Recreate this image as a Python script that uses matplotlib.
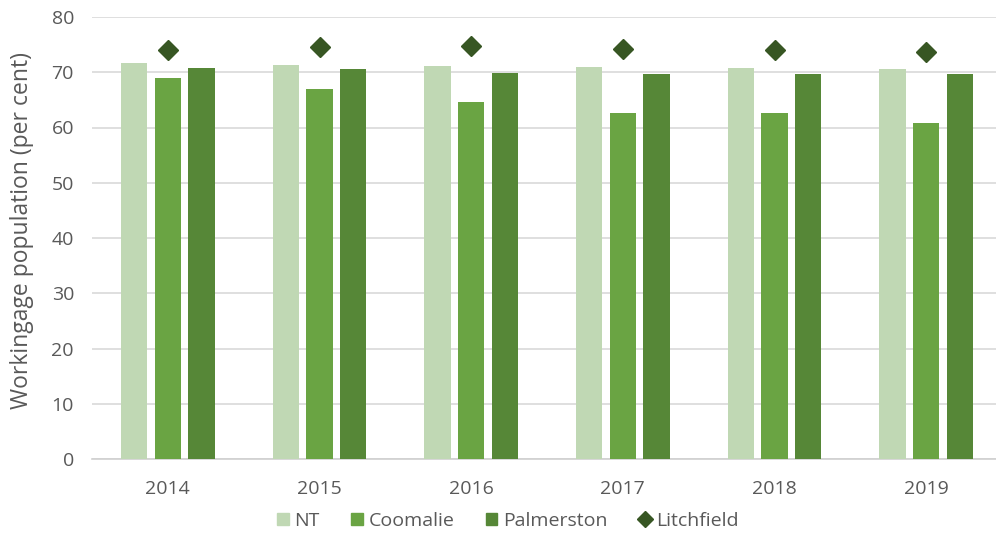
import matplotlib.pyplot as plt
import numpy as np
from matplotlib.patches import Patch
from matplotlib.lines import Line2D

plt.rcParams['font.family'] = ['Open Sans', 'DejaVu Sans']

# data to plot
years = ['2014', '2015', '2016', '2017', '2018', '2019']
nt = [71.7, 71.4, 71.2, 71.0, 70.7, 70.5]
coomalie = [68.9, 67.0, 64.6, 62.7, 62.7, 60.9]
palmerston = [70.7, 70.5, 69.8, 69.6, 69.6, 69.6]
litchfield = [74.0, 74.5, 74.7, 74.2, 74.0, 73.7]

c_nt = '#C0D8B4'
c_coom = '#6AA443'
c_palm = '#568737'
c_litch = '#375623'
txt = '#595959'

fig = plt.figure(figsize=(9.96, 5.36), dpi=100)
ax = fig.add_axes([92 / 996, 77 / 536, 910 / 996, 442 / 536])

index = np.arange(len(years))
bar_width = 0.174
offset = 0.222

ax.bar(index - offset, nt, bar_width, color=c_nt, zorder=3)
ax.bar(index, coomalie, bar_width, color=c_coom, zorder=3)
ax.bar(index + offset, palmerston, bar_width, color=c_palm, zorder=3)
ax.plot(index, litchfield, linestyle='none', marker='D', markersize=10,
        color=c_litch, zorder=4)

ax.set_xlim(-0.5, 5.5)
ax.set_ylim(0, 80)
ax.set_yticks(np.arange(0, 81, 10))
ax.set_xticks(index)
ax.set_xticklabels(years)
ax.yaxis.grid(True, color='#D9D9D9', linewidth=1.2, zorder=0)
ax.set_axisbelow(True)
for s in ['top', 'right', 'left']:
    ax.spines[s].set_visible(False)
ax.spines['bottom'].set_color('#D0D0D0')
ax.spines['bottom'].set_linewidth(1.2)
ax.tick_params(axis='both', length=0, labelsize=14, colors=txt)
ax.tick_params(axis='y', pad=13)
ax.tick_params(axis='x', pad=15)

fig.text(22 / 996, 1 - 230 / 536, 'Workingage population (per cent)',
         rotation=90, ha='center', va='center', fontsize=16.5, color=txt)

handles = [Patch(color=c_nt), Patch(color=c_coom), Patch(color=c_palm),
           Line2D([], [], linestyle='none', marker='D', markersize=8, color=c_litch)]
labels = ['NT', 'Coomalie', 'Palmerston', 'Litchfield']
leg = fig.legend(handles, labels, loc='center', bbox_to_anchor=(0.51, 1 - 521 / 536),
                 ncol=4, frameon=False, fontsize=14, handlelength=0.6,
                 handleheight=0.6, handletextpad=0.3, columnspacing=1.6)
for t in leg.get_texts():
    t.set_color(txt)

fig.savefig('out.png', dpi=100)
